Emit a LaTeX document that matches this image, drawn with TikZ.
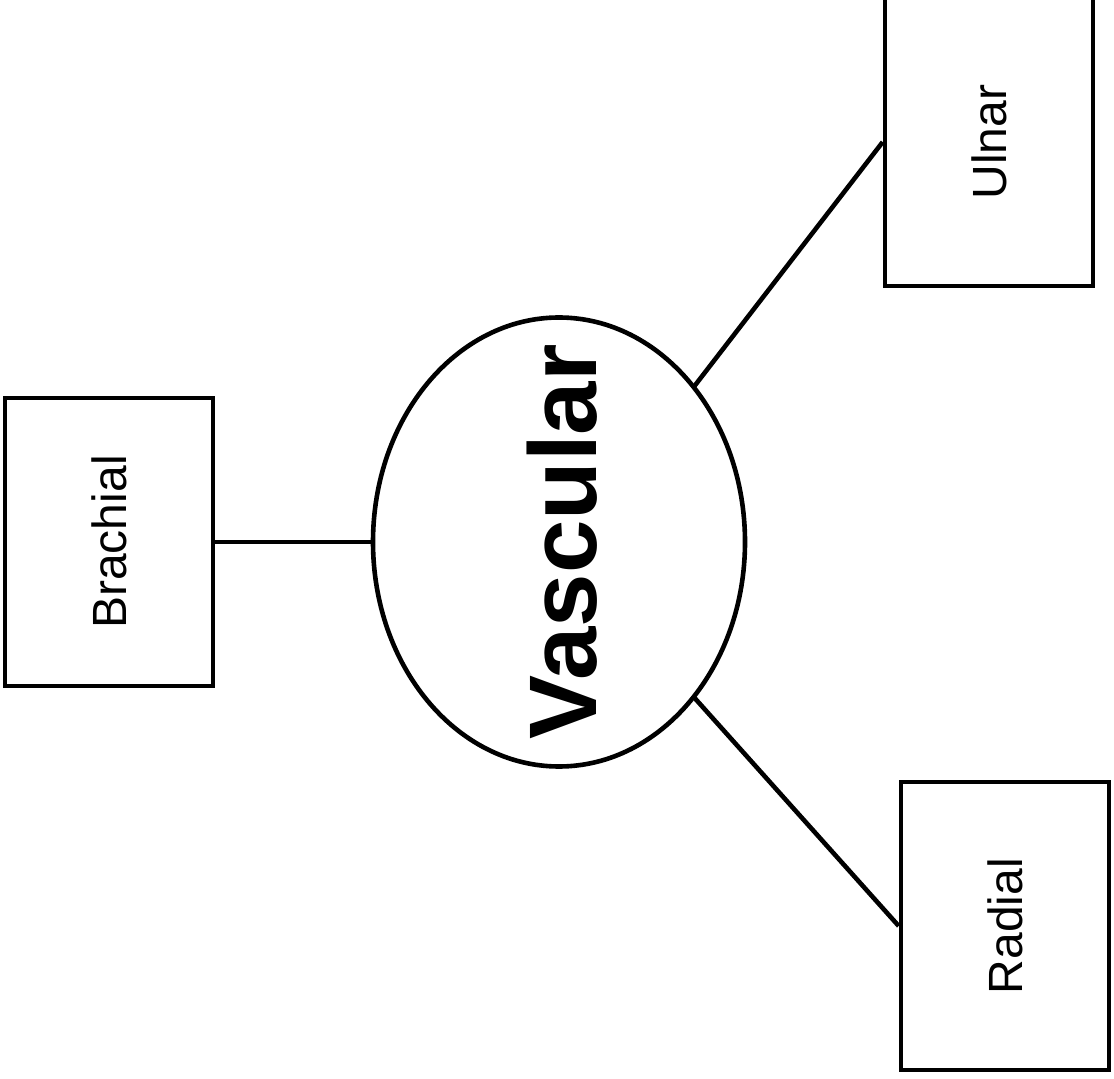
\documentclass[tikz,border=0pt]{standalone}
\usepackage{fontspec}
\setmainfont{Liberation Sans}
\usetikzlibrary{shapes.geometric}
\begin{document}
\begin{tikzpicture}[x=0.5pt,y=-0.5pt,
  box/.style={draw,line width=2.3pt,minimum width=104pt,minimum height=144pt,inner sep=0pt,font=\fontsize{24}{28}\selectfont},
  link/.style={line width=2.3pt}]
\useasboundingbox (0,0) rectangle (1114,1079);
\node[box] (brachial) at (109,542) {\rotatebox{90}{Brachial}};
\node[box] (ulnar) at (989,142) {\rotatebox{90}{Ulnar}};
\node[box] (radial) at (1005,926) {\rotatebox{90}{Radial}};
\node[draw,ellipse,line width=2.3pt,minimum width=186pt,minimum height=224.5pt,inner sep=0pt,outer sep=0pt] (vasc) at (559,542) {};
\node[font=\fontsize{48}{56}\selectfont\bfseries,rotate=90] (vlabel) at (562,542) {Vascular};
\draw[link] (brachial.east) -- (vasc.west);
\draw[link] (vasc.49.7) -- (ulnar.west);
\draw[link] (vasc.-49.7) -- (radial.west);
\end{tikzpicture}
\end{document}
